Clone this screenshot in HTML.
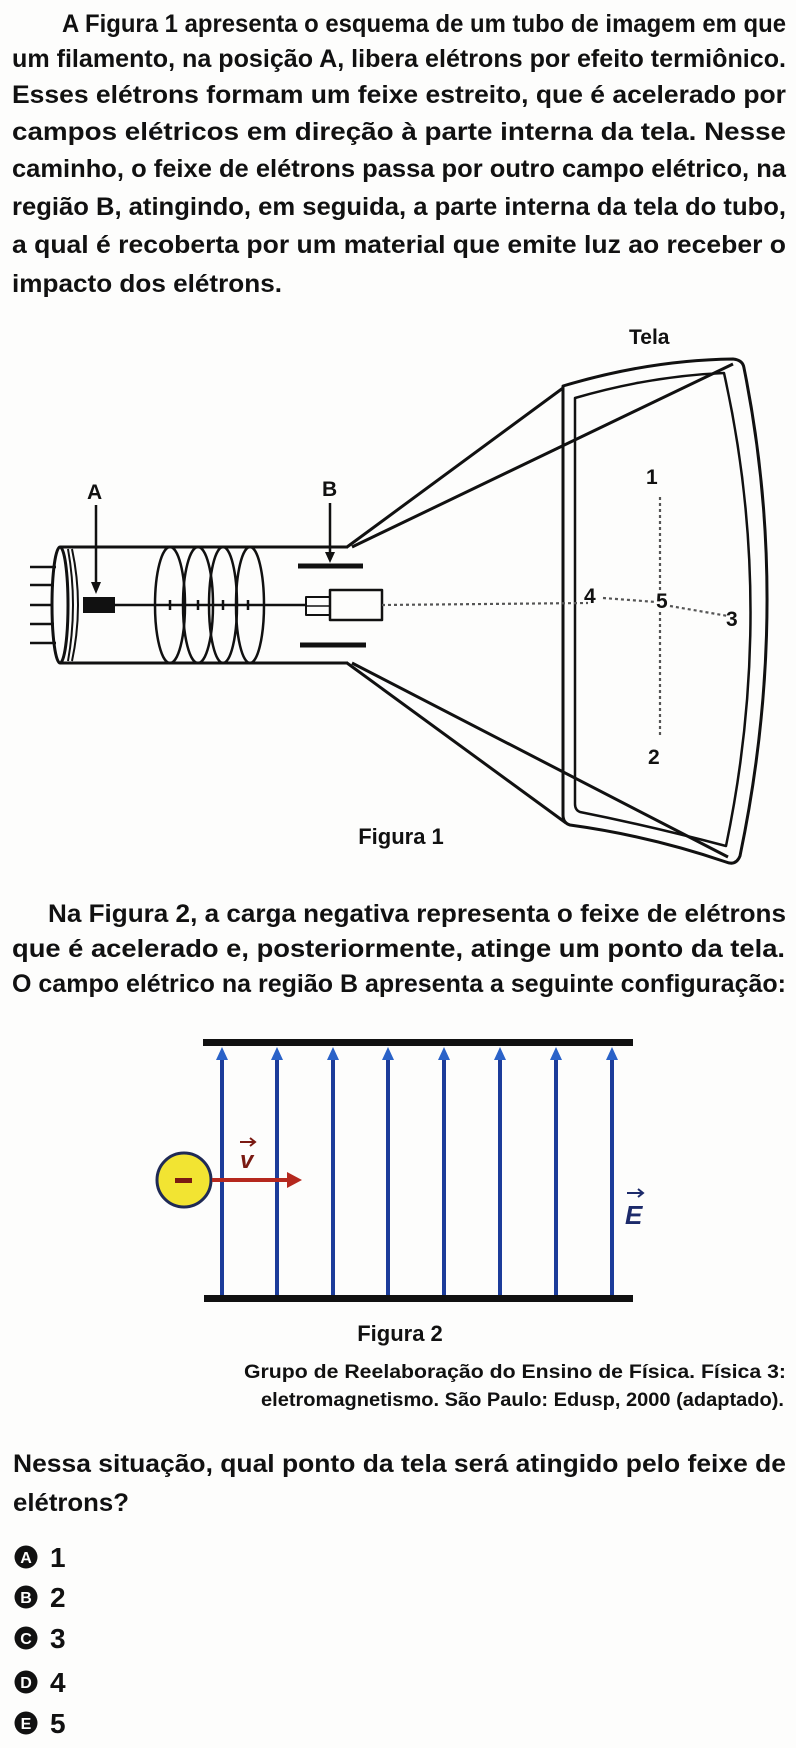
<!DOCTYPE html>
<html><head><meta charset="utf-8"><style>
html,body{margin:0;padding:0;background:#fff}
svg{display:block}
.t{font-family:"Liberation Sans",sans-serif;font-weight:bold;font-size:25px;fill:#111}
.c{font-family:"Liberation Sans",sans-serif;font-weight:bold;font-size:19px;fill:#111}
.l{font-family:"Liberation Sans",sans-serif;font-weight:bold;font-size:16px;fill:#fff}
</style></head><body>
<svg width="796" height="1748" viewBox="0 0 796 1748" xmlns="http://www.w3.org/2000/svg">
<rect width="796" height="1748" fill="#fdfdfc"/>
<!-- paragraph 1 -->
<g class="t">
<text x="62" y="32" textLength="724" lengthAdjust="spacingAndGlyphs">A Figura 1 apresenta o esquema de um tubo de imagem em que</text>
<text x="12" y="67" textLength="774" lengthAdjust="spacingAndGlyphs">um filamento, na posição A, libera elétrons por efeito termiônico.</text>
<text x="12" y="103" textLength="774" lengthAdjust="spacingAndGlyphs">Esses elétrons formam um feixe estreito, que é acelerado por</text>
<text x="12" y="140" textLength="774" lengthAdjust="spacingAndGlyphs">campos elétricos em direção à parte interna da tela. Nesse</text>
<text x="12" y="177" textLength="774" lengthAdjust="spacingAndGlyphs">caminho, o feixe de elétrons passa por outro campo elétrico, na</text>
<text x="12" y="215" textLength="774" lengthAdjust="spacingAndGlyphs">região B, atingindo, em seguida, a parte interna da tela do tubo,</text>
<text x="12" y="253" textLength="774" lengthAdjust="spacingAndGlyphs">a qual é recoberta por um material que emite luz ao receber o</text>
<text x="12" y="292" textLength="270" lengthAdjust="spacingAndGlyphs">impacto dos elétrons.</text>
</g>
<!-- Figure 1 -->
<g fill="none" stroke="#111" stroke-width="3" stroke-linejoin="round">
<line x1="60" y1="547" x2="348" y2="547"/>
<line x1="60" y1="663" x2="348" y2="663"/>
<ellipse cx="60" cy="605" rx="8" ry="58"/>
<path d="M68,549 Q78,605 68,661" stroke-width="2"/>
<path d="M72,549 Q84,605 72,661" stroke-width="2"/>
<g stroke-width="2.5">
<line x1="30" y1="567" x2="56" y2="567"/>
<line x1="30" y1="585" x2="54" y2="585"/>
<line x1="30" y1="605" x2="53" y2="605"/>
<line x1="30" y1="624" x2="54" y2="624"/>
<line x1="30" y1="643" x2="56" y2="643"/>
</g>
<ellipse cx="170" cy="605" rx="15" ry="58" stroke-width="2.5"/>
<ellipse cx="198" cy="605" rx="15" ry="58" stroke-width="2.5"/>
<ellipse cx="223" cy="605" rx="14" ry="58" stroke-width="2.5"/>
<ellipse cx="250" cy="605" rx="14" ry="58" stroke-width="2.5"/>
<line x1="115" y1="605" x2="305" y2="605" stroke-width="2.5"/>
<g stroke-width="2.5"><line x1="170" y1="600" x2="170" y2="610"/><line x1="198" y1="600" x2="198" y2="610"/><line x1="223" y1="600" x2="223" y2="610"/><line x1="248" y1="600" x2="248" y2="610"/></g>
<line x1="298" y1="566" x2="363" y2="566" stroke-width="5"/>
<line x1="300" y1="645" x2="366" y2="645" stroke-width="5"/>
<rect x="330" y="590" width="52" height="30" stroke-width="2.5"/>
<rect x="306" y="597" width="24" height="18" stroke-width="2"/>
<line x1="306" y1="606" x2="330" y2="606" stroke-width="1.5"/>
<line x1="347" y1="547" x2="563" y2="388"/>
<line x1="352" y1="547" x2="733" y2="364"/>
<line x1="347" y1="663" x2="566" y2="823"/>
<line x1="352" y1="663" x2="728" y2="857"/>
<path d="M563,386 Q650,360 733,359 Q743,360 744,368 Q792,606 740,856 Q736,866 726,862 Q650,836 570,825 Q563,823 563,815 Z"/>
<path d="M575,398 Q650,376 724,373 Q776,606 726,846 Q650,826 580,812 Q575,810 575,804 Z" stroke-width="2.5"/>
</g>
<rect x="83" y="597" width="32" height="16" fill="#111"/>
<line x1="96" y1="505" x2="96" y2="584" stroke="#111" stroke-width="2.5"/>
<path d="M91,582 L96,594 L101,582 Z" fill="#111"/>
<line x1="330" y1="503" x2="330" y2="554" stroke="#111" stroke-width="2.5"/>
<path d="M325,552 L330,563 L335,552 Z" fill="#111"/>
<g fill="none" stroke="#555" stroke-width="2.2" stroke-dasharray="3 3">
<line x1="382" y1="605" x2="588" y2="603"/>
<line x1="603" y1="598" x2="656" y2="602"/>
<line x1="670" y1="606" x2="728" y2="616"/>
<line x1="660" y1="497" x2="660" y2="590"/>
<line x1="660" y1="612" x2="660" y2="738"/>
</g>
<g class="t" style="font-size:21px">
<text x="87" y="499">A</text>
<text x="322" y="496">B</text>
<text x="629" y="344">Tela</text>
<text x="646" y="484">1</text>
<text x="648" y="764">2</text>
<text x="726" y="626">3</text>
<text x="584" y="603">4</text>
<text x="656" y="608">5</text>
</g>
<text x="401" y="844" class="t" style="font-size:22px" text-anchor="middle">Figura 1</text>
<!-- paragraph 2 -->
<g class="t">
<text x="48" y="922" textLength="738" lengthAdjust="spacingAndGlyphs">Na Figura 2, a carga negativa representa o feixe de elétrons</text>
<text x="12" y="957" textLength="773" lengthAdjust="spacingAndGlyphs">que é acelerado e, posteriormente, atinge um ponto da tela.</text>
<text x="12" y="992" textLength="774" lengthAdjust="spacingAndGlyphs">O campo elétrico na região B apresenta a seguinte configuração:</text>
</g>
<!-- Figure 2 -->
<rect x="203" y="1039" width="430" height="7" fill="#111"/>
<rect x="204" y="1295" width="429" height="7" fill="#111"/>
<g stroke="#1c3c9a" stroke-width="4">
<line x1="222" y1="1295" x2="222" y2="1056"/>
<line x1="277" y1="1295" x2="277" y2="1056"/>
<line x1="333" y1="1295" x2="333" y2="1056"/>
<line x1="388" y1="1295" x2="388" y2="1056"/>
<line x1="444" y1="1295" x2="444" y2="1056"/>
<line x1="500" y1="1295" x2="500" y2="1056"/>
<line x1="556" y1="1295" x2="556" y2="1056"/>
<line x1="612" y1="1295" x2="612" y2="1056"/>
</g>
<g fill="#2a62c8">
<path d="M216,1060 L222,1047 L228,1060 Z"/><path d="M271,1060 L277,1047 L283,1060 Z"/>
<path d="M327,1060 L333,1047 L339,1060 Z"/><path d="M382,1060 L388,1047 L394,1060 Z"/>
<path d="M438,1060 L444,1047 L450,1060 Z"/><path d="M494,1060 L500,1047 L506,1060 Z"/>
<path d="M550,1060 L556,1047 L562,1060 Z"/><path d="M606,1060 L612,1047 L618,1060 Z"/>
</g>
<circle cx="184" cy="1180" r="27" fill="#f2e432" stroke="#1f2a55" stroke-width="3"/>
<rect x="175" y="1178" width="17" height="5" fill="#7a1a12"/>
<line x1="212" y1="1180" x2="290" y2="1180" stroke="#b5281e" stroke-width="4"/>
<path d="M287,1172 L302,1180 L287,1188 Z" fill="#b5281e"/>
<text x="240" y="1168" class="t" style="font-size:24px;font-style:italic;fill:#7a1a12">v</text>
<path d="M240,1142 L254,1142 M250,1138 L255,1142 L250,1146" stroke="#7a1a12" stroke-width="2" fill="none"/>
<text x="625" y="1224" class="t" style="font-size:26px;font-style:italic;fill:#1c2a6a">E</text>
<path d="M627,1193 L642,1193 M638,1189 L643,1193 L638,1197" stroke="#1c2a6a" stroke-width="2" fill="none"/>
<text x="400" y="1341" class="t" style="font-size:22px" text-anchor="middle">Figura 2</text>
<g class="c">
<text x="244" y="1378" textLength="542" lengthAdjust="spacingAndGlyphs">Grupo de Reelaboração do Ensino de Física. Física 3:</text>
<text x="261" y="1406" textLength="523" lengthAdjust="spacingAndGlyphs">eletromagnetismo. São Paulo: Edusp, 2000 (adaptado).</text>
</g>
<g class="t">
<text x="13" y="1472" textLength="773" lengthAdjust="spacingAndGlyphs">Nessa situação, qual ponto da tela será atingido pelo feixe de</text>
<text x="13" y="1511" textLength="116" lengthAdjust="spacingAndGlyphs">elétrons?</text>
</g>
<g>
<circle cx="26" cy="1557" r="11.5" fill="#111"/><text x="26" y="1563" text-anchor="middle" class="l">A</text>
<text x="50" y="1567" class="t" style="font-size:28px">1</text>
<circle cx="26" cy="1597" r="11.5" fill="#111"/><text x="26" y="1603" text-anchor="middle" class="l">B</text>
<text x="50" y="1607" class="t" style="font-size:28px">2</text>
<circle cx="26" cy="1638" r="11.5" fill="#111"/><text x="26" y="1644" text-anchor="middle" class="l">C</text>
<text x="50" y="1648" class="t" style="font-size:28px">3</text>
<circle cx="26" cy="1682" r="11.5" fill="#111"/><text x="26" y="1688" text-anchor="middle" class="l">D</text>
<text x="50" y="1692" class="t" style="font-size:28px">4</text>
<circle cx="26" cy="1723" r="11.5" fill="#111"/><text x="26" y="1729" text-anchor="middle" class="l">E</text>
<text x="50" y="1733" class="t" style="font-size:28px">5</text>
</g>
</svg>
</body></html>
